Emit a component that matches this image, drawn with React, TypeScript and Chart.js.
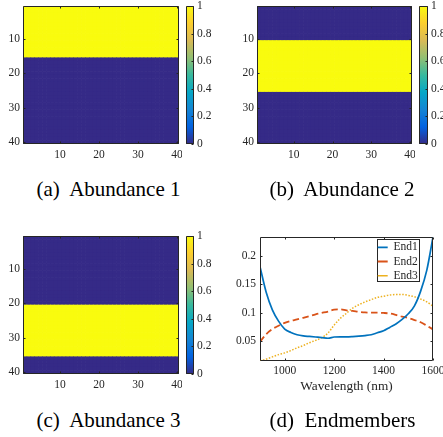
import React, { useEffect, useRef } from "react";
import { Chart, registerables } from "chart.js";

Chart.register(...registerables);

// ---------------- data ----------------
const columnIndex = [
  1, 2, 3, 4, 5, 6, 7, 8, 9, 10, 11, 12, 13, 14, 15, 16, 17, 18, 19, 20,
  21, 22, 23, 24, 25, 26, 27, 28, 29, 30, 31, 32, 33, 34, 35, 36, 37, 38, 39, 40,
];

// abundance value of each image row (rows 1..40, constant along each row)
const abundance1Rows = [
  1, 1, 1, 1, 1, 1, 1, 1, 1, 1, 1, 1, 1, 1, 1, 0, 0, 0, 0, 0,
  0, 0, 0, 0, 0, 0, 0, 0, 0, 0, 0, 0, 0, 0, 0, 0, 0, 0, 0, 0,
];
const abundance2Rows = [
  0, 0, 0, 0, 0, 0, 0, 0, 0, 0, 1, 1, 1, 1, 1, 1, 1, 1, 1, 1,
  1, 1, 1, 1, 1, 0, 0, 0, 0, 0, 0, 0, 0, 0, 0, 0, 0, 0, 0, 0,
];
const abundance3Rows = [
  0, 0, 0, 0, 0, 0, 0, 0, 0, 0, 0, 0, 0, 0, 0, 0, 0, 0, 0, 0,
  1, 1, 1, 1, 1, 1, 1, 1, 1, 1, 1, 1, 1, 1, 1, 0, 0, 0, 0, 0,
];
const mapTicks = [10, 20, 30, 40];
const colorbarTicks = [0, 0.2, 0.4, 0.6, 0.8, 1];

const wavelengths = [
  900, 925, 950, 975, 1000, 1025, 1050, 1075, 1100, 1125, 1150, 1175, 1200, 1225, 1250,
  1275, 1300, 1325, 1350, 1375, 1400, 1425, 1450, 1475, 1500, 1525, 1550, 1575, 1600,
];
const end1 = [
  0.181, 0.136, 0.105, 0.085, 0.071, 0.065, 0.061, 0.059, 0.058, 0.057, 0.056, 0.0548, 0.057, 0.0574, 0.0574,
  0.0578, 0.0585, 0.0595, 0.061, 0.0645, 0.068, 0.074, 0.08, 0.088, 0.098, 0.112, 0.138, 0.175, 0.2335,
];
const end2 = [
  0.0486, 0.062, 0.071, 0.077, 0.082, 0.0855, 0.088, 0.091, 0.094, 0.097, 0.0995, 0.102, 0.1055, 0.106, 0.104,
  0.103, 0.1015, 0.1005, 0.1, 0.1, 0.0995, 0.0985, 0.096, 0.093, 0.0905, 0.087, 0.083, 0.077, 0.0705,
];
const end3 = [
  0.0147, 0.018, 0.022, 0.026, 0.029, 0.033, 0.038, 0.042, 0.047, 0.051, 0.056, 0.064, 0.078, 0.09, 0.099,
  0.108, 0.114, 0.119, 0.123, 0.127, 0.129, 0.131, 0.132, 0.132, 0.1305, 0.128, 0.124, 0.119, 0.1115,
];
const wavelengthTicks = [1000, 1200, 1400, 1600];
const endmemberTicks = [0.05, 0.1, 0.15, 0.2];
const endmemberNames = ["End1", "End2", "End3"];

// ---------------- styles ----------------
const SERIF = '"Liberation Serif", "Times New Roman", Times, serif';
const AXIS_COLOR = "#262626";
const TICK_FONT = { family: SERIF, size: 11.5 };
const PARULA = ["#352a87", "#0363e1", "#1485d4", "#06a7c6", "#38b99e", "#92bf73", "#d9ba56", "#fcce2e", "#f9fb0e"];

type Box = { x: number; y: number; w: number; h: number };
type Rect = { l: number; t: number; r: number; b: number };

function hexToRgb(h: string) {
  const n = parseInt(h.slice(1), 16);
  return [(n >> 16) & 255, (n >> 8) & 255, n & 255];
}
function parulaColor(v: number) {
  const t = Math.min(1, Math.max(0, v)) * (PARULA.length - 1);
  const i = Math.min(PARULA.length - 2, Math.floor(t));
  const f = t - i;
  const a = hexToRgb(PARULA[i]);
  const b = hexToRgb(PARULA[i + 1]);
  const c = a.map((av, k) => Math.round(av + (b[k] - av) * f));
  return `rgb(${c[0]},${c[1]},${c[2]})`;
}

// fix a scale's thickness and stop its labels from pushing the plot area inward
function fixSize(s: any, size: number) {
  if (s.isHorizontal()) s.height = size;
  else s.width = size;
  s.paddingLeft = 0;
  s.paddingRight = 0;
  s.paddingTop = 0;
  s.paddingBottom = 0;
}

// MATLAB-like box with inward tick marks
const matlabAxes = {
  id: "matlabAxes",
  afterDraw(chart: any, _args: any, opts: any) {
    const { ctx, chartArea: a } = chart;
    const len = opts.len ?? 2;
    const L = Math.round(a.left) + 0.5;
    const R = Math.round(a.right) - 0.5;
    const T = Math.round(a.top) + 0.5;
    const B = Math.round(a.bottom) - 0.5;
    ctx.save();
    ctx.strokeStyle = AXIS_COLOR;
    ctx.lineWidth = 1;
    ctx.setLineDash([]);
    ctx.beginPath();
    ctx.rect(L, T, R - L, B - T);
    if (opts.xTicks && chart.scales.x) {
      const xs = chart.scales.x;
      xs.ticks.forEach((t: any) => {
        const p = Math.round(xs.getPixelForValue(t.value)) + 0.5;
        ctx.moveTo(p, B);
        ctx.lineTo(p, B - len);
        ctx.moveTo(p, T);
        ctx.lineTo(p, T + len);
      });
    }
    if (opts.yTicks && chart.scales.y) {
      const ys = chart.scales.y;
      ys.ticks.forEach((t: any) => {
        const p = Math.round(ys.getPixelForValue(t.value)) + 0.5;
        if (opts.yTicks !== "right") {
          ctx.moveTo(L, p);
          ctx.lineTo(L + len, p);
        }
        ctx.moveTo(R, p);
        ctx.lineTo(R - len, p);
      });
    }
    ctx.stroke();
    ctx.restore();
  },
};

// legend placed inside the axes (top right) with a white framed box
const legendFrame = {
  id: "legendFrame",
  afterLayout(chart: any, _args: any, opts: any) {
    const lg = chart.legend;
    if (!lg) return;
    const a = chart.chartArea;
    const pad = lg.options.labels.padding;
    const fs = lg.options.labels.font.size;
    const bx = a.right - opts.fromRight;
    const by = a.top + opts.fromTop;
    lg.left = bx + opts.inset - pad;
    lg.top = by + opts.firstRowCenter - pad - fs / 2;
  },
  beforeDraw(chart: any, _args: any, opts: any) {
    const { ctx, chartArea: a } = chart;
    const bx = Math.round(a.right - opts.fromRight) + 0.5;
    const by = Math.round(a.top + opts.fromTop) + 0.5;
    ctx.save();
    ctx.fillStyle = "#ffffff";
    ctx.fillRect(bx, by, opts.width, opts.height);
    ctx.strokeStyle = AXIS_COLOR;
    ctx.lineWidth = 1;
    ctx.strokeRect(bx, by, Math.round(opts.width), Math.round(opts.height));
    ctx.restore();
  },
};

function baseOptions(canvas: Box, plot: Rect, leftAxis: boolean, rightAxis: boolean) {
  return {
    animation: false,
    responsive: false,
    devicePixelRatio: 1,
    events: [],
    layout: {
      autoPadding: false,
      padding: {
        left: leftAxis ? 0 : plot.l - canvas.x,
        top: plot.t - canvas.y,
        right: rightAxis ? 0 : canvas.x + canvas.w - plot.r,
        bottom: 0,
      },
    },
  };
}

function heatmapConfig(rows: number[], canvas: Box, plot: Rect) {
  const cells: any[] = [];
  const colors: string[] = [];
  rows.forEach((v, ri) => {
    columnIndex.forEach((c) => {
      cells.push({ x: [c - 0.5, c + 0.5], y: ri + 1 });
      colors.push(parulaColor(v));
    });
  });
  const yAxisW = plot.l - canvas.x;
  const xAxisH = canvas.y + canvas.h - plot.b;
  const n = columnIndex.length;
  return {
    type: "bar",
    data: {
      datasets: [
        {
          data: cells,
          backgroundColor: colors,
          borderWidth: 0,
          barPercentage: 1,
          categoryPercentage: 1,
        },
      ],
    },
    options: {
      ...baseOptions(canvas, plot, true, false),
      indexAxis: "y",
      plugins: {
        legend: { display: false },
        tooltip: { enabled: false },
        matlabAxes: { xTicks: true, yTicks: true, len: 2 },
      },
      scales: {
        x: {
          type: "linear",
          bounds: "data",
          offset: false,
          min: 0.5,
          max: n + 0.5,
          grid: { display: false, drawTicks: false },
          border: { display: false },
          ticks: { padding: 4, font: TICK_FONT, color: AXIS_COLOR, maxRotation: 0, autoSkip: false, callback: (v: any) => String(v) },
          afterBuildTicks: (s: any) => {
            s.ticks = mapTicks.map((value) => ({ value }));
          },
          afterFit: (s: any) => fixSize(s, xAxisH),
        },
        y: {
          type: "linear",
          bounds: "data",
          offset: false,
          reverse: true,
          min: 0.5,
          max: rows.length + 0.5,
          grid: { display: false, drawTicks: false },
          border: { display: false },
          ticks: { padding: 3, font: TICK_FONT, color: AXIS_COLOR, autoSkip: false, callback: (v: any) => String(v) },
          afterBuildTicks: (s: any) => {
            s.ticks = mapTicks.map((value) => ({ value }));
          },
          afterFit: (s: any) => fixSize(s, yAxisW),
        },
      },
    },
    plugins: [matlabAxes],
  };
}

function colorbarConfig(canvas: Box, plot: Rect) {
  const axisW = canvas.x + canvas.w - plot.r;
  const lo = colorbarTicks[0];
  const hi = colorbarTicks[colorbarTicks.length - 1];
  return {
    type: "bar",
    data: {
      labels: ["colormap"],
      datasets: [
        {
          data: [[lo, hi]],
          borderWidth: 0,
          barPercentage: 1,
          categoryPercentage: 1,
          backgroundColor: (c: any) => {
            const area = c.chart.chartArea;
            if (!area) return PARULA[0];
            const g = c.chart.ctx.createLinearGradient(0, area.bottom, 0, area.top);
            PARULA.forEach((col, i) => g.addColorStop(i / (PARULA.length - 1), col));
            return g;
          },
        },
      ],
    },
    options: {
      ...baseOptions(canvas, plot, false, true),
      layout: {
        autoPadding: false,
        padding: { left: plot.l - canvas.x, top: plot.t - canvas.y, right: 0, bottom: canvas.y + canvas.h - plot.b },
      },
      plugins: {
        legend: { display: false },
        tooltip: { enabled: false },
        matlabAxes: { xTicks: false, yTicks: "right", len: 2 },
      },
      scales: {
        x: { display: false },
        y: {
          position: "right",
          bounds: "data",
          min: lo,
          max: hi,
          grid: { display: false, drawTicks: false },
          border: { display: false },
          ticks: { padding: 3, font: TICK_FONT, color: AXIS_COLOR, autoSkip: false, callback: (v: any) => String(v) },
          afterBuildTicks: (s: any) => {
            s.ticks = colorbarTicks.map((value) => ({ value }));
          },
          afterFit: (s: any) => fixSize(s, axisW),
        },
      },
    },
    plugins: [matlabAxes],
  };
}

function endmemberConfig(canvas: Box, plot: Rect) {
  const yAxisW = plot.l - canvas.x;
  const xAxisH = canvas.y + canvas.h - plot.b;
  const series = [end1, end2, end3];
  const colors = ["#0072BD", "#D95319", "#EDB120"];
  const dashes = [[], [6.5, 3.5], [1.5, 1.6]];
  const widths = [1.7, 1.8, 1.5];
  return {
    type: "line",
    data: {
      datasets: series.map((s, k) => ({
        label: endmemberNames[k],
        data: wavelengths.map((w, i) => ({ x: w, y: s[i] })),
        borderColor: colors[k],
        backgroundColor: colors[k],
        borderWidth: widths[k],
        borderDash: dashes[k],
        pointRadius: 0,
        fill: false,
        cubicInterpolationMode: "monotone",
      })),
    },
    options: {
      ...baseOptions(canvas, plot, true, false),
      plugins: {
        tooltip: { enabled: false },
        legend: {
          display: true,
          position: "chartArea",
          align: "start",
          labels: {
            usePointStyle: true,
            pointStyle: "line",
            pointStyleWidth: 10,
            boxHeight: 11.5,
            padding: 2.7,
            color: AXIS_COLOR,
            font: { family: SERIF, size: 11.5 },
          },
        },
        legendFrame: { fromRight: 56.3, fromTop: 2.3, width: 42.3, height: 42.4, inset: 1.0, firstRowCenter: 8 },
        matlabAxes: { xTicks: true, yTicks: true, len: 2 },
      },
      scales: {
        x: {
          type: "linear",
          bounds: "data",
          min: wavelengths[0],
          max: wavelengths[wavelengths.length - 1],
          grid: { display: false, drawTicks: false },
          border: { display: false },
          title: {
            display: true,
            text: "Wavelength (nm)",
            color: AXIS_COLOR,
            font: { family: SERIF, size: 13.3 },
            padding: { top: 0, bottom: 2 },
          },
          ticks: { padding: 3, font: TICK_FONT, color: AXIS_COLOR, maxRotation: 0, autoSkip: false, callback: (v: any) => String(v) },
          afterBuildTicks: (s: any) => {
            s.ticks = wavelengthTicks.map((value) => ({ value }));
          },
          afterFit: (s: any) => fixSize(s, xAxisH),
        },
        y: {
          type: "linear",
          bounds: "data",
          min: Math.min(...end1, ...end2, ...end3),
          max: Math.max(...end1, ...end2, ...end3),
          grid: { display: false, drawTicks: false },
          border: { display: false },
          ticks: { padding: 4, font: TICK_FONT, color: AXIS_COLOR, autoSkip: false, callback: (v: any) => String(v) },
          afterBuildTicks: (s: any) => {
            s.ticks = endmemberTicks.map((value) => ({ value }));
          },
          afterFit: (s: any) => fixSize(s, yAxisW),
        },
      },
    },
    plugins: [legendFrame, matlabAxes],
  };
}

// ---------------- layout ----------------
const HEAT_A_CANVAS: Box = { x: 0, y: 0, w: 182, h: 170 };
const HEAT_A_PLOT: Rect = { l: 23, t: 6, r: 179, b: 144 };
const CBAR_A_CANVAS: Box = { x: 183, y: 0, w: 40, h: 170 };
const CBAR_A_PLOT: Rect = { l: 186, t: 6, r: 194, b: 144 };

const HEAT_B_CANVAS: Box = { x: 222, y: 0, w: 193, h: 170 };
const HEAT_B_PLOT: Rect = { l: 257, t: 6, r: 412, b: 144 };
const CBAR_B_CANVAS: Box = { x: 416, y: 0, w: 27, h: 170 };
const CBAR_B_PLOT: Rect = { l: 419, t: 6, r: 428, b: 144 };

const HEAT_C_CANVAS: Box = { x: 0, y: 226, w: 182, h: 170 };
const HEAT_C_PLOT: Rect = { l: 23, t: 236, r: 179, b: 374 };
const CBAR_C_CANVAS: Box = { x: 183, y: 226, w: 40, h: 170 };
const CBAR_C_PLOT: Rect = { l: 186, t: 236, r: 194, b: 374 };

const END_CANVAS: Box = { x: 222, y: 226, w: 221, h: 170 };
const END_PLOT: Rect = { l: 260, t: 237, r: 433, b: 361 };

function ChartBox({ box, make }: { box: Box; make: () => any }) {
  const ref = useRef<HTMLCanvasElement>(null);
  useEffect(() => {
    const chart = new Chart(ref.current as HTMLCanvasElement, make());
    return () => chart.destroy();
  }, []);
  return (
    <canvas
      ref={ref}
      width={box.w}
      height={box.h}
      style={{ position: "absolute", left: box.x, top: box.y, width: box.w, height: box.h }}
    />
  );
}

function Caption({ cx, top, text }: { cx: number; top: number; text: string }) {
  return (
    <div
      style={{
        position: "absolute",
        left: cx - 110,
        top,
        width: 220,
        height: 24,
        lineHeight: "24px",
        textAlign: "center",
        fontFamily: SERIF,
        fontSize: 21,
        color: "#000",
        whiteSpace: "pre",
      }}
    >
      {text}
    </div>
  );
}

export default function App() {
  return (
    <div
      style={{
        position: "fixed",
        left: 0,
        top: 0,
        width: 443,
        height: 437,
        background: "#ffffff",
        overflow: "hidden",
      }}
    >
      <ChartBox box={HEAT_A_CANVAS} make={() => heatmapConfig(abundance1Rows, HEAT_A_CANVAS, HEAT_A_PLOT)} />
      <ChartBox box={CBAR_A_CANVAS} make={() => colorbarConfig(CBAR_A_CANVAS, CBAR_A_PLOT)} />
      <ChartBox box={HEAT_B_CANVAS} make={() => heatmapConfig(abundance2Rows, HEAT_B_CANVAS, HEAT_B_PLOT)} />
      <ChartBox box={CBAR_B_CANVAS} make={() => colorbarConfig(CBAR_B_CANVAS, CBAR_B_PLOT)} />
      <ChartBox box={HEAT_C_CANVAS} make={() => heatmapConfig(abundance3Rows, HEAT_C_CANVAS, HEAT_C_PLOT)} />
      <ChartBox box={CBAR_C_CANVAS} make={() => colorbarConfig(CBAR_C_CANVAS, CBAR_C_PLOT)} />
      <ChartBox box={END_CANVAS} make={() => endmemberConfig(END_CANVAS, END_PLOT)} />
      <Caption cx={108.5} top={177} text="(a)  Abundance 1" />
      <Caption cx={342} top={177} text="(b)  Abundance 2" />
      <Caption cx={108.5} top={408} text="(c)  Abundance 3" />
      <Caption cx={342.5} top={408} text="(d)  Endmembers" />
    </div>
  );
}
